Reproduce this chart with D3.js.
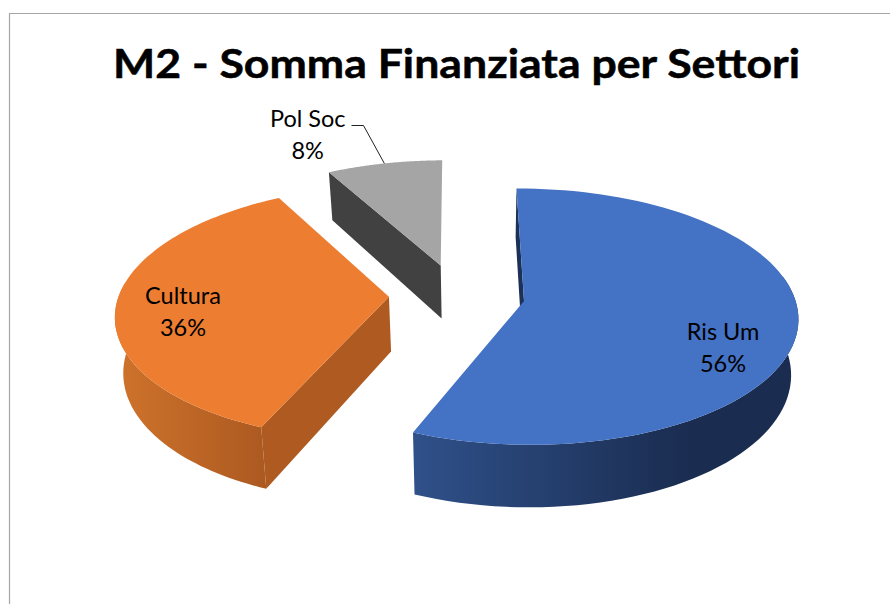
<!DOCTYPE html>
<html><head><meta charset="utf-8">
<script src="https://cdn.jsdelivr.net/npm/d3@7"></script>
<style>html,body{margin:0;padding:0;background:#fff;overflow:hidden}svg{display:block}text{font-family:Lato,"Open Sans",sans-serif}</style>
</head><body><svg id="c" width="890" height="604"></svg>
<script>
const chartTitle = "M2 - Somma Finanziata per Settori";
const categories = ["Ris Um", "Cultura", "Pol Soc"];
const values = [56.4, 35.7, 7.9];
const topColors = ["#4472c4", "#ed7d31", "#a5a5a5"];
const radialWallColors = ["#1c3157", "#ae5a21", "#414141"];

// Layout of the tilted pie
const W = 890, H = 604;
const cx = 457, cy = 295, vx = 478, R = 270, explode = 68;
const tilt = 0.462, persp = 0.122, depth = 54.5, vxBottom = 480, qBottom = 0.977;
const rot = -0.6 * Math.PI / 180;

const svg = d3.select("#c");
const defs = svg.append("defs");
function grad(id, x1, x2, c1, c2) {
  const g = defs.append("linearGradient").attr("id", id).attr("gradientUnits", "userSpaceOnUse")
    .attr("x1", x1).attr("x2", x2).attr("y1", 0).attr("y2", 0);
  g.append("stop").attr("offset", 0).attr("stop-color", c1);
  g.append("stop").attr("offset", 1).attr("stop-color", c2);
}
grad("wall0", 416, 690, "#2f5089", "#1a2c50");
grad("wall1", 122, 262, "#cd722b", "#ad5a21");
grad("wall2", 330, 440, "#414141", "#414141");

svg.append("path").attr("d", `M${W},13.5H9.5V${H}`).attr("fill", "none").attr("stroke", "#a6a6a6").attr("stroke-width", 1.2);

function topPoint(u, v) {
  const s = 1 / (1 - persp * v / R);
  return [vx + (u + cx - vx) * s, cy + v * tilt * s, s];
}
function bottomPoint(u, v) {
  const t = topPoint(u, v);
  return [vxBottom + (t[0] - vxBottom) * qBottom, t[1] + depth * t[2]];
}
const dir = a => [Math.sin(a), -Math.cos(a)];
const line = d3.line();
const pieGen = d3.pie().sort(null).startAngle(rot).endAngle(2 * Math.PI + rot);
const arcs = pieGen(values);

const walls = svg.append("g"), tops = svg.append("g"), labels = svg.append("g");
const labelOffset = [[199, 39], [-206, 7], [-133, -139]];

arcs.forEach((d, i) => {
  const mid = (d.startAngle + d.endAngle) / 2;
  const [ex, ey] = dir(mid);
  const u0 = ex * explode, v0 = ey * explode;
  const at = (a, r, proj) => { const [x, y] = dir(a); return proj(u0 + x * r, v0 + y * r); };
  const N = 90;
  const angles = d3.range(N + 1).map(k => d.startAngle + (d.endAngle - d.startAngle) * k / N);

  // radial wall along the starting edge
  walls.append("path").attr("fill", radialWallColors[i]).attr("d", line([
    at(d.startAngle, 0, topPoint), at(d.startAngle, R, topPoint),
    at(d.startAngle, R, bottomPoint), at(d.startAngle, 0, bottomPoint)
  ].map(p => p.slice(0, 2))) + "Z");

  // curved outer wall: only the part facing the viewer
  const vis = angles.filter(a => a > 1.35 && a < 4.85);
  if (vis.length > 1) {
    const pts = vis.map(a => at(a, R, topPoint).slice(0, 2))
      .concat(vis.slice().reverse().map(a => at(a, R, bottomPoint)));
    walls.append("path").attr("fill", `url(#wall${i})`).attr("d", line(pts) + "Z");
  }

  // top face
  const face = [at(0, 0, topPoint)].concat(angles.map(a => at(a, R, topPoint))).map(p => p.slice(0, 2));
  tops.append("path").attr("fill", topColors[i]).attr("d", line(face) + "Z");

  // label
  const c = at(0, 0, topPoint);
  const lx = c[0] + labelOffset[i][0], ly = c[1] + labelOffset[i][1];
  const t = labels.append("text").attr("text-anchor", "middle").attr("font-size", 23.5).attr("fill", "#000");
  t.append("tspan").attr("x", lx).attr("y", ly).text(categories[i]);
  t.append("tspan").attr("x", lx).attr("y", ly + 32).text(d3.format(".0f")(d.value / d3.sum(values) * 100) + "%");
});

// leader line of the small slice
const g = arcs[2];
const [gx, gy] = dir((g.startAngle + g.endAngle) / 2);
const gt = topPoint(gx * explode + gx * R, gy * explode + gy * R);
labels.append("path").attr("fill", "none").attr("stroke", "#222").attr("stroke-width", 1)
  .attr("d", line([[351.5, 125.5], [363.5, 125.5], [gt[0], gt[1]]]));

svg.append("text").attr("x", 113).attr("y", 78).attr("textLength", 687).attr("lengthAdjust", "spacingAndGlyphs")
  .attr("font-size", 40).attr("font-weight", 700).attr("fill", "#000")
  .attr("stroke", "#000").attr("stroke-width", 0.5).text(chartTitle);
</script></body></html>
